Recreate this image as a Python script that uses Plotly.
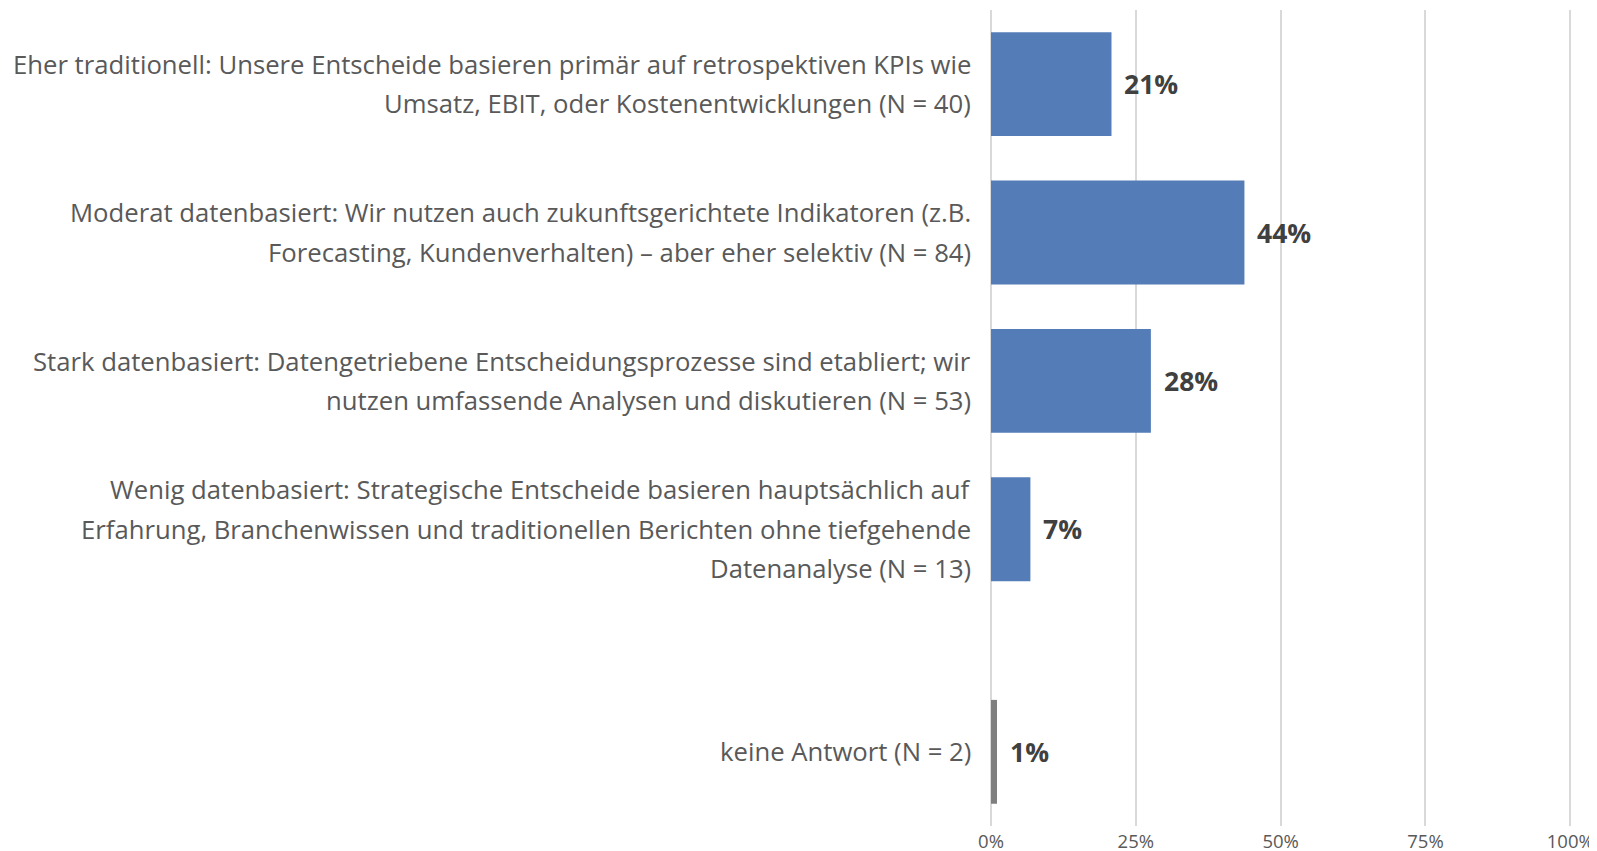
import plotly.graph_objects as go

categories = [
    "Eher traditionell: Unsere Entscheide basieren primär auf retrospektiven KPIs wie<br>Umsatz, EBIT, oder Kostenentwicklungen (N = 40)",
    "Moderat datenbasiert: Wir nutzen auch zukunftsgerichtete Indikatoren (z.B.<br>Forecasting, Kundenverhalten) – aber eher selektiv (N = 84)",
    "Stark datenbasiert: Datengetriebene Entscheidungsprozesse sind etabliert; wir<br>nutzen umfassende Analysen und diskutieren (N = 53)",
    "Wenig datenbasiert: Strategische Entscheide basieren hauptsächlich auf<br>Erfahrung, Branchenwissen und traditionellen Berichten ohne tiefgehende<br>Datenanalyse (N = 13)",
    "keine Antwort (N = 2)",
]
positions = [0, 1, 2, 3, 4.5]
values = [20.8, 43.75, 27.6, 6.8, 1.04]
value_labels = ["21%", "44%", "28%", "7%", "1%"]
bar_colors = ["#547DB8", "#547DB8", "#547DB8", "#547DB8", "#7F7F7F"]
tick_vals = [0, 25, 50, 75, 100]
tick_text = ["0%", "25%", "50%", "75%", "100%"]

LABEL_FONT = dict(family="Open Sans", size=25.7, color="#595959")
LINE_PX = 39.5

fig = go.Figure()
fig.add_trace(go.Bar(
    x=values, y=positions, orientation="h",
    marker=dict(color=bar_colors, line=dict(width=0)),
    width=0.7, hoverinfo="skip",
))

annotations = []
for cat, pos in zip(categories, positions):
    lines = cat.split("<br>")
    n = len(lines)
    for i, line in enumerate(lines):
        annotations.append(dict(
            x=0, xref="x", y=pos, yref="y", text=line, showarrow=False,
            xanchor="right", yanchor="middle", xshift=-18,
            yshift=-(i - (n - 1) / 2) * LINE_PX, font=LABEL_FONT,
        ))
for v, lab, pos in zip(values, value_labels, positions):
    annotations.append(dict(
        x=v, xref="x", y=pos, yref="y", text="<b>" + lab + "</b>", showarrow=False,
        xanchor="left", yanchor="middle", xshift=11,
        font=dict(family="Open Sans", size=26.5, color="#404040"),
    ))

# page body has an 8px default margin, so the figure is sized/offset to fit the window
fig.update_layout(
    template="none",
    width=1589, height=843,
    margin=dict(l=983, r=25, t=2, b=25, autoexpand=False),
    plot_bgcolor="white", paper_bgcolor="white",
    showlegend=False, bargap=0.3,
    annotations=annotations,
    xaxis=dict(range=[0, 100.3], tickvals=tick_vals, ticktext=tick_text,
               showgrid=True, gridcolor="#D9D9D9", gridwidth=2,
               zeroline=True, zerolinecolor="#D9D9D9", zerolinewidth=2,
               showline=False, ticks="", automargin=False,
               tickfont=dict(family="Open Sans", size=18.5, color="#595959"),
               ticklabelstandoff=2, fixedrange=True),
    yaxis=dict(range=[5.0, -0.5], showticklabels=False, showgrid=False,
               zeroline=False, showline=False, ticks="", automargin=False,
               fixedrange=True),
)

fig.write_html("out.html")
